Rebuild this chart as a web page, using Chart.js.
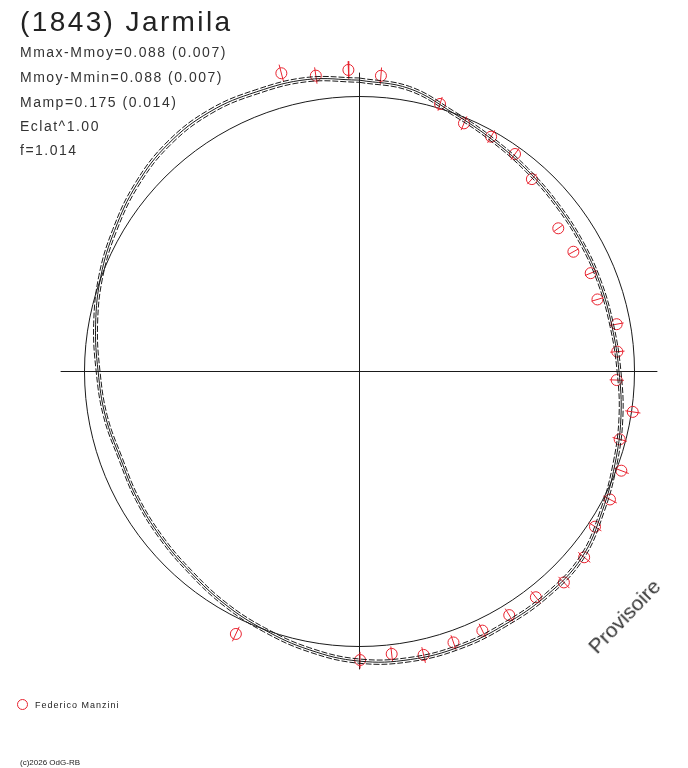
<!DOCTYPE html>
<html>
<head>
<meta charset="utf-8">
<script src="https://cdn.jsdelivr.net/npm/chart.js@4.4.1/dist/chart.umd.min.js"></script>
<style>
  body { margin: 0; background: #fff; font-family: Arial, "Liberation Sans", sans-serif; }
  #wrap { position: relative; width: 688px; height: 768px; overflow: hidden; }
  #plot { position: absolute; left: 0; top: 0; }
  .txt { position: absolute; color: #222; white-space: nowrap; line-height: 1; }
  .title { left: 20px; top: 8px; font-size: 28px; letter-spacing: 2.4px; }
  .stat { left: 20px; font-size: 14px; letter-spacing: 1.5px; color: #333; }
  .legend { left: 35px; top: 701px; font-size: 9px; letter-spacing: 1px; }
  .legend-dot { position: absolute; left: 17px; top: 699px; width: 11px; height: 11px; box-sizing: border-box;
                border: 1px solid #e8232f; border-radius: 50%; }
  .copy { left: 20px; top: 759px; font-size: 8px; }
  .draft { left: 624px; top: 616px; font-size: 21px; color: #333; transform: translate(-50%, -50%) rotate(-46deg); }
</style>
</head>
<body>
<div id="wrap">
  <canvas id="plot" width="688" height="768"></canvas>
  <div class="txt title">(1843) Jarmila</div>
  <div class="txt stat" style="top:45px">Mmax-Mmoy=0.088 (0.007)</div>
  <div class="txt stat" style="top:70px">Mmoy-Mmin=0.088 (0.007)</div>
  <div class="txt stat" style="top:95px">Mamp=0.175 (0.014)</div>
  <div class="txt stat" style="top:119px">Eclat^1.00</div>
  <div class="txt stat" style="top:143px">f=1.014</div>
  <div class="legend-dot"></div>
  <div class="txt legend">Federico Manzini</div>
  <div class="txt copy">(c)2026 OdG-RB</div>
  <div class="txt draft">Provisoire</div>
</div>
<script>
// observations: rotational phase and magnitude relative to the mean (mag), with error
const ptPhase = [0.0118, 0.0469, 0.0638, 0.0817, 0.0992, 0.1167, 0.1511, 0.1692, 0.1864, 0.2036,
                 0.2214, 0.2381, 0.2556, 0.2736, 0.2908, 0.3078, 0.3253, 0.3428, 0.3600, 0.3775,
                 0.3944, 0.4122, 0.4294, 0.4467, 0.4644, 0.4817, 0.4994, 0.5697, 0.9594, 0.9769, 0.9944];
const ptMag = [-0.080, -0.016, 0.024, 0.024, 0.031, 0.068, 0.125, 0.124, 0.097, 0.108,
               0.053, 0.065, 0.070, -0.007, 0.022, -0.022, -0.027, -0.030, -0.066, -0.074,
               -0.047, -0.045, -0.048, -0.048, -0.062, -0.038, -0.054, -0.059, -0.122, -0.089, -0.099];
const ptErr = [0.030, 0.028, 0.030, 0.029, 0.029, 0.029, 0.025, 0.025, 0.027, 0.027,
               0.029, 0.030, 0.030, 0.030, 0.030, 0.030, 0.029, 0.029, 0.029, 0.029,
               0.029, 0.029, 0.029, 0.029, 0.030, 0.029, 0.031, 0.030, 0.031, 0.030, 0.031];

// Fourier fit (solid) and the fit +/- its error (dashed), magnitude relative to the mean
const fitPhase = [0.000, 0.028, 0.056, 0.083, 0.111, 0.139, 0.167, 0.194, 0.222, 0.250,
                  0.278, 0.306, 0.333, 0.361, 0.389, 0.417, 0.444, 0.472, 0.500, 0.528,
                  0.556, 0.583, 0.611, 0.639, 0.667, 0.694, 0.722, 0.750, 0.778, 0.806,
                  0.833, 0.861, 0.889, 0.917, 0.944, 0.972];
const fitMag = [-0.061, -0.046, 0.002, 0.032, 0.053, 0.067, 0.074, 0.076, 0.074, 0.061,
                0.036, 0.010, -0.022, -0.060, -0.067, -0.067, -0.071, -0.069, -0.058, -0.032,
                -0.002, 0.024, 0.051, 0.067, 0.078, 0.086, 0.071, 0.057, 0.030, 0.000,
                -0.027, -0.058, -0.082, -0.091, -0.085, -0.080];
const fitOuter = [-0.069, -0.054, -0.006, 0.024, 0.045, 0.059, 0.066, 0.068, 0.066, 0.053,
                  0.028, 0.002, -0.030, -0.068, -0.075, -0.075, -0.079, -0.077, -0.066, -0.040,
                  -0.010, 0.016, 0.043, 0.059, 0.070, 0.078, 0.063, 0.049, 0.022, -0.008,
                  -0.035, -0.066, -0.090, -0.099, -0.093, -0.088];
const fitInner = [-0.053, -0.038, 0.010, 0.040, 0.061, 0.075, 0.082, 0.084, 0.082, 0.069,
                  0.044, 0.018, -0.014, -0.052, -0.059, -0.059, -0.063, -0.061, -0.050, -0.024,
                  0.006, 0.032, 0.059, 0.075, 0.086, 0.094, 0.079, 0.065, 0.038, 0.008,
                  -0.019, -0.050, -0.074, -0.083, -0.077, -0.072];

const MEAN_FLUX = 1;          // reference circle = mean brightness
const RANGE = 300 / 275;      // half width of the plot, in mean-flux units
const AXIS_HALF = 1.085;      // length of the cross hair arms
const RED = '#e8232f';
const INK = '#1a1a1a';

// polar mapping: phase clockwise from the top, radius = relative flux
function toXY(phase, mag) {
  const r = MEAN_FLUX * Math.pow(10, -0.4 * mag);
  const a = phase * 2 * Math.PI;
  return { x: r * Math.sin(a), y: r * Math.cos(a) };
}

function curve(mags) {
  const pts = fitPhase.map((p, i) => toXY(p, mags[i]));
  pts.push(pts[0]);
  return pts;
}

const points = ptPhase.map((p, i) => toXY(p, ptMag[i]));
const errBars = [];
ptPhase.forEach((p, i) => {
  errBars.push(toXY(p, ptMag[i] - ptErr[i]), toXY(p, ptMag[i] + ptErr[i]), { x: null, y: null });
});

const guides = {
  id: 'guides',
  beforeDatasetsDraw(chart) {
    const { ctx, scales: { x, y } } = chart;
    const cx = Math.round(x.getPixelForValue(0)) + 0.5;
    const cy = Math.round(y.getPixelForValue(0)) + 0.5;
    ctx.save();
    ctx.strokeStyle = INK;
    ctx.lineWidth = 1;
    ctx.beginPath();
    ctx.moveTo(x.getPixelForValue(-AXIS_HALF), cy);
    ctx.lineTo(x.getPixelForValue(AXIS_HALF), cy);
    ctx.moveTo(cx, y.getPixelForValue(AXIS_HALF));
    ctx.lineTo(cx, y.getPixelForValue(-AXIS_HALF));
    ctx.stroke();
    ctx.beginPath();
    ctx.arc(cx, cy, x.getPixelForValue(MEAN_FLUX) - x.getPixelForValue(0), 0, 2 * Math.PI);
    ctx.stroke();
    ctx.restore();
  }
};

const lineStyle = { showLine: true, pointRadius: 0, borderWidth: 1, borderColor: INK, tension: 0.4, fill: false, clip: false };

new Chart(document.getElementById('plot'), {
  type: 'scatter',
  data: {
    datasets: [
      { label: 'fit', data: curve(fitMag), ...lineStyle },
      { label: 'fit+', data: curve(fitOuter), ...lineStyle, borderDash: [6, 2] },
      { label: 'fit-', data: curve(fitInner), ...lineStyle, borderDash: [6, 2] },
      { label: 'err', data: errBars, showLine: true, spanGaps: false, pointRadius: 0, clip: false,
        borderWidth: 1, borderColor: RED, tension: 0 },
      { label: 'Federico Manzini', data: points, showLine: false, pointStyle: 'circle', pointRadius: 5.5,
        clip: false, borderWidth: 1, pointBorderColor: RED, pointBackgroundColor: 'rgba(0,0,0,0)' }
    ]
  },
  options: {
    responsive: false,
    animation: false,
    devicePixelRatio: 1,
    layout: { padding: { left: 59, right: 29, top: 71, bottom: 97 } },
    plugins: { legend: { display: false }, tooltip: { enabled: false } },
    scales: {
      x: { type: 'linear', min: -RANGE, max: RANGE, display: false },
      y: { type: 'linear', min: -RANGE, max: RANGE, display: false }
    }
  },
  plugins: [guides]
});
</script>
</body>
</html>
